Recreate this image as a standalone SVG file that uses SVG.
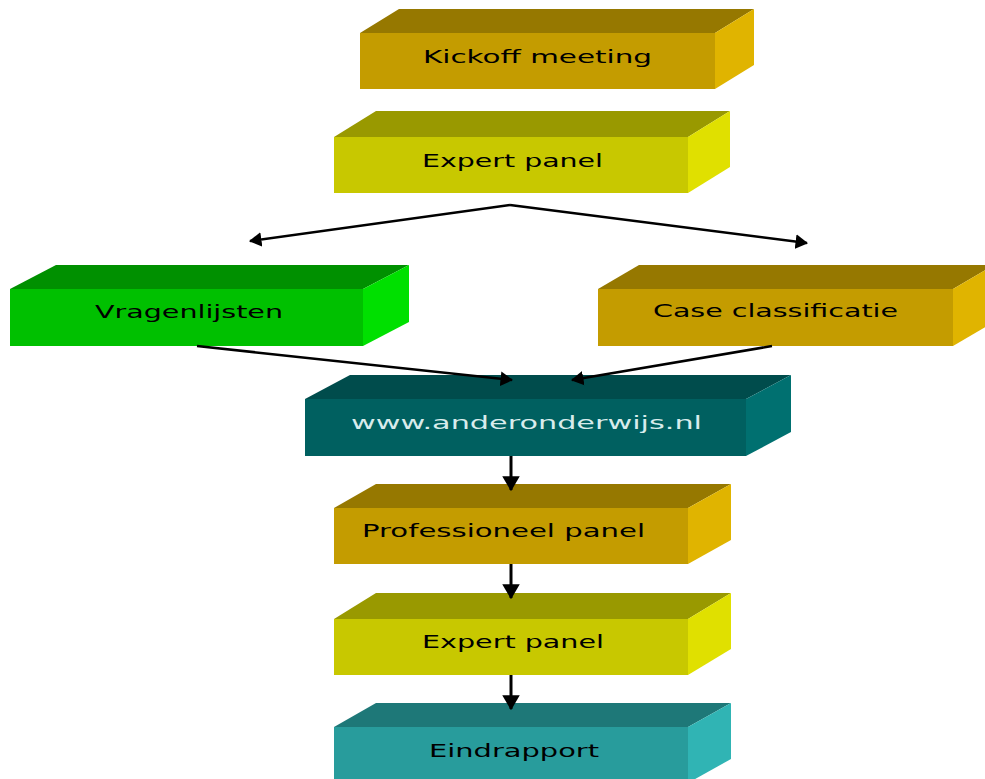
<svg xmlns="http://www.w3.org/2000/svg" width="985" height="779" viewBox="0 0 985 779">
<defs>
<style>
.lbl{font-family:"DejaVu Sans","Liberation Sans",sans-serif;font-size:17px;fill:#000;text-anchor:start}
.ochre .f{fill:#C49C00}.ochre .t{fill:#967800}.ochre .r{fill:#E0B400}
.yel .f{fill:#C8C800}.yel .t{fill:#999900}.yel .r{fill:#E0E000}
.grn .f{fill:#00C000}.grn .t{fill:#009000}.grn .r{fill:#00E000}
.teal .f{fill:#006060}.teal .t{fill:#004C4C}.teal .r{fill:#007070}
.cyan .f{fill:#289C9C}.cyan .t{fill:#1E7878}.cyan .r{fill:#30B4B4}
.conn{stroke:#000;stroke-width:2.5;fill:none}
.vconn{stroke-width:3}
</style>
<marker id="ah" viewBox="0 0 12 14" refX="11" refY="7" markerWidth="5" markerHeight="6.5" orient="auto" markerUnits="strokeWidth">
<path d="M0,0 L12,7 L0,14 Z" fill="#000"/>
</marker>
</defs>
<rect width="985" height="779" fill="#fff"/>

<g id="kickoff" class="ochre">
<polygon class="t" points="360,33 399,9 754,9 715,33"/>
<polygon class="r" points="715,33 754,9 754,65 715,89"/>
<rect class="f" x="360" y="33" width="355" height="56"/>
<text class="lbl" x="423" y="63" textLength="229" lengthAdjust="spacingAndGlyphs">Kickoff meeting</text>
</g>

<g id="expert1" class="yel">
<polygon class="t" points="334,137 376,111 730,111 688,137"/>
<polygon class="r" points="688,137 730,111 730,167 688,193"/>
<rect class="f" x="334" y="137" width="354" height="56"/>
<text class="lbl" x="422" y="167" textLength="181" lengthAdjust="spacingAndGlyphs">Expert panel</text>
</g>

<g id="vragenlijsten" class="grn">
<polygon class="t" points="10,289 56,265 409,265 363,289"/>
<polygon class="r" points="363,289 409,265 409,322 363,346"/>
<rect class="f" x="10" y="289" width="353" height="57"/>
<text class="lbl" x="95" y="318" textLength="188" lengthAdjust="spacingAndGlyphs">Vragenlijsten</text>
</g>

<g id="caseclass" class="ochre">
<polygon class="t" points="598,289 639,265 994,265 953,289"/>
<polygon class="r" points="953,289 994,265 994,322 953,346"/>
<rect class="f" x="598" y="289" width="355" height="57"/>
<text class="lbl" x="653" y="317" textLength="245" lengthAdjust="spacingAndGlyphs">Case classificatie</text>
</g>

<g id="website" class="teal">
<polygon class="t" points="305,399 350,375 791,375 746,399"/>
<polygon class="r" points="746,399 791,375 791,432 746,456"/>
<rect class="f" x="305" y="399" width="441" height="57"/>
<text class="lbl" x="351" y="429" textLength="351" lengthAdjust="spacingAndGlyphs" style="fill:#D8ECEC">www.anderonderwijs.nl</text>
</g>

<g id="professioneel" class="ochre">
<polygon class="t" points="334,508 376,484 731,484 688,508"/>
<polygon class="r" points="688,508 731,484 731,540 688,564"/>
<rect class="f" x="334" y="508" width="354" height="56"/>
<text class="lbl" x="362" y="537" textLength="283" lengthAdjust="spacingAndGlyphs">Professioneel panel</text>
</g>

<g id="expert2" class="yel">
<polygon class="t" points="334,619 376,593 731,593 688,619"/>
<polygon class="r" points="688,619 731,593 731,649 688,675"/>
<rect class="f" x="334" y="619" width="354" height="56"/>
<text class="lbl" x="422" y="648" textLength="182" lengthAdjust="spacingAndGlyphs">Expert panel</text>
</g>

<g id="eindrapport" class="cyan">
<polygon class="t" points="334,727 376,703 731,703 688,727"/>
<polygon class="r" points="688,727 731,703 731,759 688,783"/>
<rect class="f" x="334" y="727" width="354" height="56"/>
<text class="lbl" x="429" y="757" textLength="170" lengthAdjust="spacingAndGlyphs">Eindrapport</text>
</g>

<g id="connectors">
<path class="conn" d="M510,205 L250,241" marker-end="url(#ah)"/>
<path class="conn" d="M510,205 L807,243" marker-end="url(#ah)"/>
<path class="conn" d="M197,346 L512,380" marker-end="url(#ah)"/>
<path class="conn" d="M772,346 L572,380" marker-end="url(#ah)"/>
<path class="conn vconn" d="M511,456 L511,490" marker-end="url(#ah)"/>
<path class="conn vconn" d="M511,564 L511,598" marker-end="url(#ah)"/>
<path class="conn vconn" d="M511,675 L511,709" marker-end="url(#ah)"/>
</g>
</svg>
